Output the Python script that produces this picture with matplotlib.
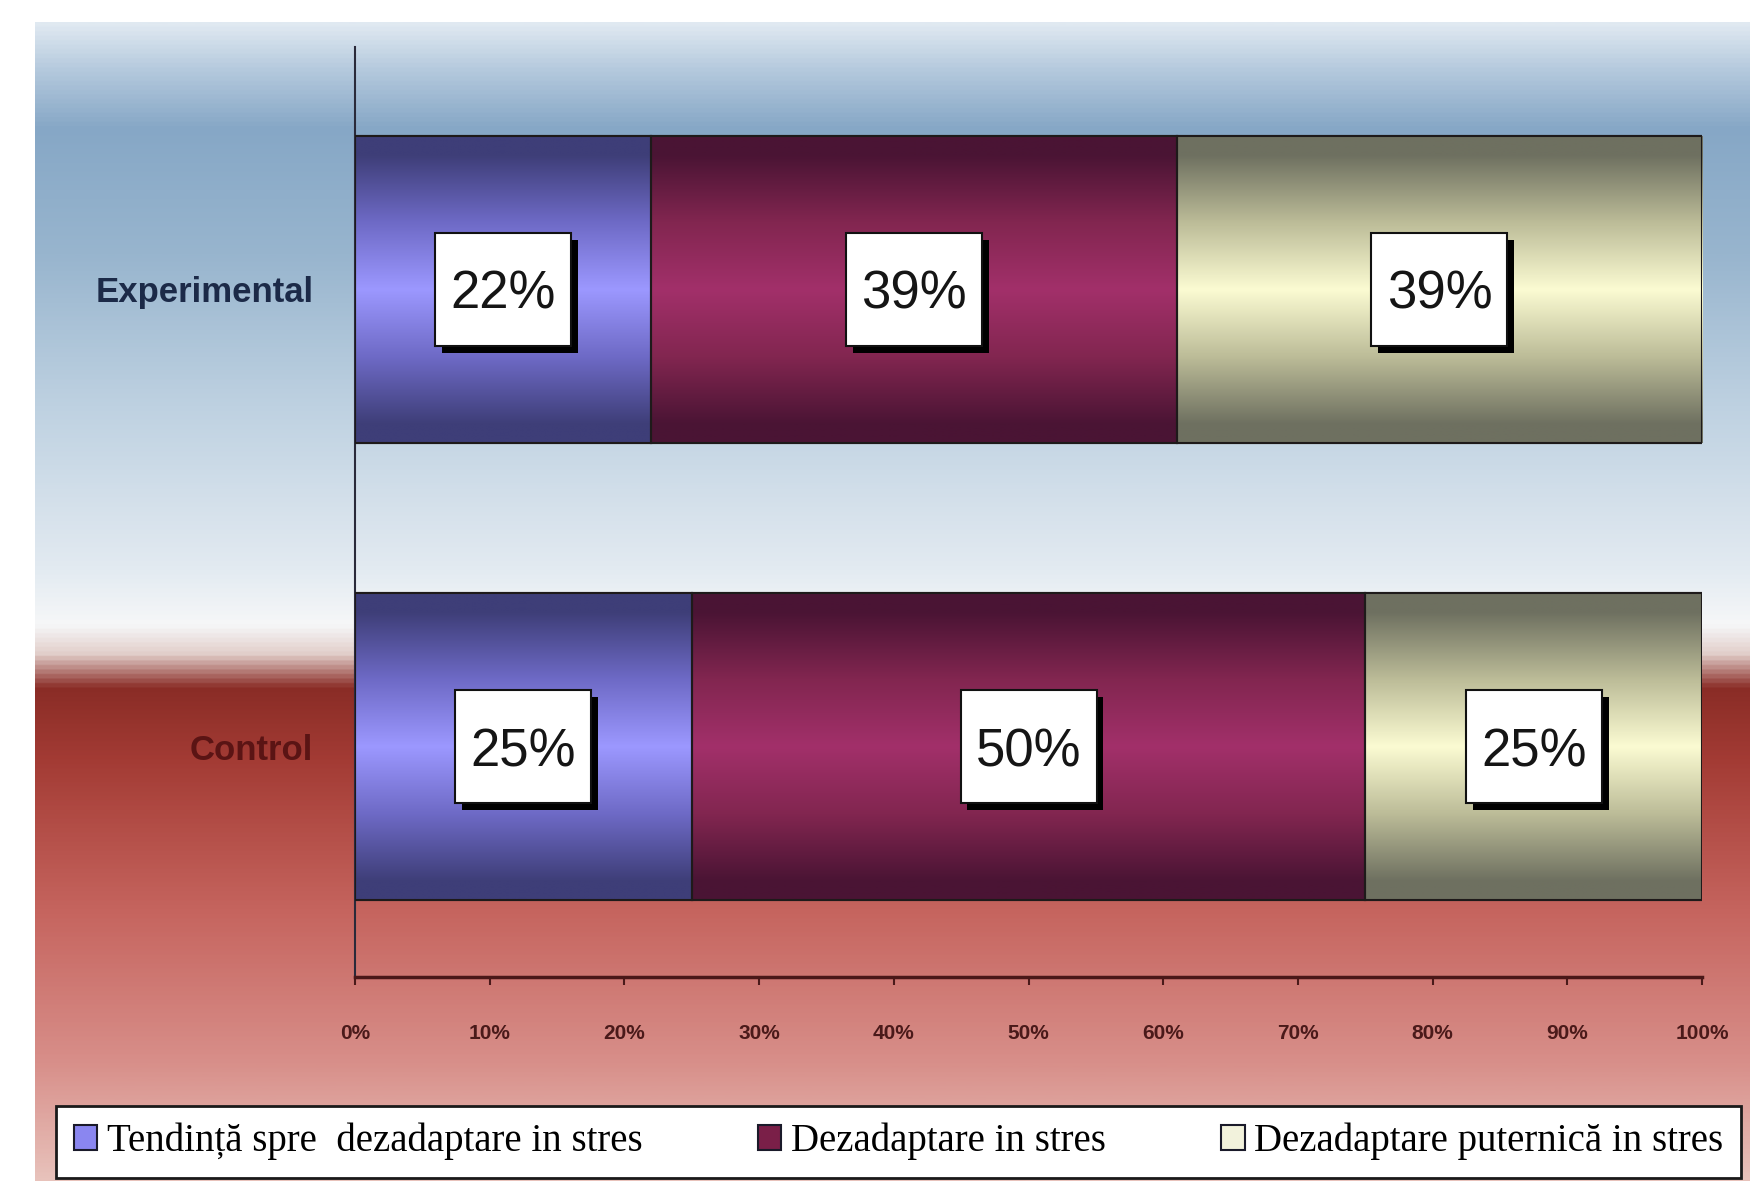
import matplotlib
matplotlib.use('Agg')
import matplotlib.pyplot as plt
import numpy as np
from matplotlib.colors import LinearSegmentedColormap
from matplotlib.transforms import ScaledTranslation
import matplotlib.patheffects as pe

# Data
groups = ['Control', 'Experimental']
series_names = ['Tendință spre  dezadaptare in stres',
                'Dezadaptare in stres',
                'Dezadaptare puternică in stres']
values = {
    'Tendință spre  dezadaptare in stres': [25, 22],
    'Dezadaptare in stres': [50, 39],
    'Dezadaptare puternică in stres': [25, 39],
}
x_ticks = [0, 10, 20, 30, 40, 50, 60, 70, 80, 90, 100]

# colours: (edge shade, middle shade, centre shade, legend swatch)
series_colors = [
    ('#3e3e78', '#6e6ac6', '#9c98ff', '#8a86f0'),
    ('#4a1434', '#822650', '#a2306a', '#7a1f48'),
    ('#6e7060', '#bcbc98', '#fbfbd2', '#f2f2dc'),
]

fig = plt.figure(figsize=(17.5, 11.81), dpi=100)

# --- background panel gradient (blue top, red bottom) ---
bg = fig.add_axes([35 / 1750, 0, 1 - 35 / 1750, 1 - 22 / 1181], zorder=-10)
bg_stops = [(0.00, '#e0e9f1'), (0.04, '#b4c9dd'), (0.09, '#86a7c6'),
            (0.20, '#98b5ce'), (0.33, '#bed1e1'), (0.47, '#e2eaf1'),
            (0.52, '#f6f7f8'), (0.545, '#e2cfcb'), (0.575, '#8a2c26'),
            (0.64, '#a43c35'), (0.77, '#c6655f'), (0.90, '#d88f8a'),
            (1.00, '#e8c2bb')]
bg_cmap = LinearSegmentedColormap.from_list('bg', bg_stops)
bg.imshow(np.linspace(0, 1, 512).reshape(-1, 1), aspect='auto', cmap=bg_cmap,
          extent=(0, 1, 0, 1), origin='upper')
bg.set_axis_off()

# --- main axes ---
ax = fig.add_axes([355 / 1750, 1 - 977 / 1181, (1702 - 355) / 1750, (977 - 47) / 1181])
ax.patch.set_alpha(0)

box_w, box_h = 1.36, 1.13  # label box size in inches
y = np.arange(len(groups))
bar_h = 0.671
left = np.zeros(len(groups))
for i, name in enumerate(series_names):
    vals = np.array(values[name], dtype=float)
    dark, mid, light, swatch = series_colors[i]
    bars = ax.barh(y, vals, left=left, height=bar_h, color=swatch,
                   edgecolor='#1e1a1a', linewidth=1.5, label=name, zorder=2)
    cmap = LinearSegmentedColormap.from_list(
        'g%d' % i, [(0, dark), (0.06, dark), (0.28, mid), (0.5, light),
                    (0.72, mid), (0.94, dark), (1, dark)])
    grad = np.linspace(0, 1, 256).reshape(-1, 1)
    for b, v in zip(bars, vals):
        x0, y0 = b.get_x(), b.get_y()
        im = ax.imshow(grad, aspect='auto', cmap=cmap, zorder=2.5,
                       extent=(x0, x0 + b.get_width(), y0, y0 + b.get_height()))
        im.set_clip_path(b)
        edge = plt.Rectangle((x0, y0), b.get_width(), b.get_height(), fill=False,
                             edgecolor='#1e1a1a', linewidth=1.5, zorder=3)
        ax.add_patch(edge)
        xc, yc = x0 + b.get_width() / 2, y0 + b.get_height() / 2
        # white label box with drop shadow, fixed size in inches
        tr = fig.dpi_scale_trans + ScaledTranslation(xc, yc, ax.transData)
        box = plt.Rectangle((-box_w / 2, -box_h / 2), box_w, box_h, transform=tr,
                            facecolor='white', edgecolor='#111111', linewidth=1.5,
                            zorder=4)
        box.set_path_effects(
            [pe.SimplePatchShadow(offset=(5, -5), shadow_rgbFace='black', alpha=1),
             pe.Normal()])
        ax.add_artist(box)
        ax.text(xc, yc, '%d%%' % v, ha='center', va='center_baseline', fontsize=38,
                family='Liberation Sans', color='#151515', zorder=5)
    left += vals

ax.set_xlim(0, 100)
ax.set_ylim(-0.503, 1.530)
ax.set_xticks(x_ticks)
ax.set_xticklabels(['%d%%' % t for t in x_ticks], fontsize=15, fontweight='bold',
                   family='Liberation Sans', color='#4a1a1a')
ax.tick_params(axis='x', direction='out', length=6, width=1.5, color='#4a1a1a', pad=28)
ax.set_yticks(y)
ax.set_yticklabels(groups, fontsize=25, fontweight='bold', family='Liberation Sans')
ax.get_yticklabels()[0].set_color('#5a1414')
ax.get_yticklabels()[1].set_color('#1c2a48')
ax.tick_params(axis='y', length=0, pad=30)
for s in ['top', 'right']:
    ax.spines[s].set_visible(False)
ax.spines['left'].set_color('#2a2a3a')
ax.spines['left'].set_linewidth(1.5)
ax.spines['bottom'].set_color('#4a1818')
ax.spines['bottom'].set_linewidth(2.5)

# --- legend ---
handles, labels = ax.get_legend_handles_labels()
leg = fig.legend(handles, labels, loc='lower left', ncol=3,
                 bbox_to_anchor=(56 / 1750, 3 / 1181, (1741 - 56) / 1750, 76 / 1181),
                 mode='expand', borderaxespad=0,
                 prop={'family': 'Liberation Serif', 'size': 28},
                 handlelength=0.6, handleheight=0.6, handletextpad=0.25,
                 columnspacing=0.3, borderpad=0.45, fancybox=False,
                 framealpha=1, edgecolor='#1a1a1a')
leg.get_frame().set_linewidth(2)
for h in leg.legend_handles:
    h.set_edgecolor('#1a1a2a')
    h.set_linewidth(1.5)

fig.savefig('out.png', dpi=100)
